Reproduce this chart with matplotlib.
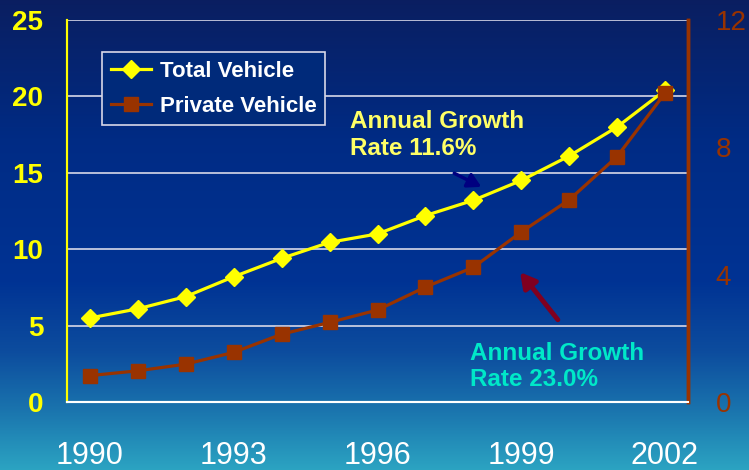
import matplotlib.pyplot as plt
import numpy as np
from matplotlib.colors import LinearSegmentedColormap

plt.rcParams['font.family'] = ['Liberation Sans', 'DejaVu Sans']

years = [1990, 1991, 1992, 1993, 1994, 1995, 1996, 1997, 1998, 1999, 2000, 2001, 2002]
total_vehicle = [5.5, 6.1, 6.9, 8.2, 9.4, 10.45, 11.0, 12.2, 13.2, 14.5, 16.1, 18.0, 20.4]
private_vehicle = [0.83, 0.98, 1.19, 1.56, 2.13, 2.5, 2.89, 3.61, 4.23, 5.34, 6.35, 7.71, 9.7]
year_ticks = [1990, 1993, 1996, 1999, 2002]
left_ticks = [0, 5, 10, 15, 20, 25]
right_ticks = [0, 4, 8, 12]

fig = plt.figure(figsize=(7.49, 4.70), dpi=100)

# background gradient (dark navy at top -> teal at bottom)
bg = fig.add_axes([0, 0, 1, 1], zorder=-10)
cmap = LinearSegmentedColormap.from_list('bg', [
    (0.0, (0.04, 0.12, 0.38)),
    (0.30, (0.00, 0.17, 0.52)),
    (0.60, (0.00, 0.20, 0.58)),
    (0.75, (0.05, 0.30, 0.62)),
    (0.87, (0.10, 0.45, 0.68)),
    (1.0, (0.17, 0.64, 0.76)),
])
bg.imshow(np.linspace(0, 1, 256).reshape(-1, 1), aspect='auto', cmap=cmap,
          extent=[0, 1, 0, 1])
bg.axis('off')

ax = fig.add_axes([67 / 749, 68 / 470, 621 / 749, 382 / 470])
ax.set_facecolor('none')
ax2 = ax.twinx()

ax.set_xlim(1989.52, 2002.48)
ax.set_ylim(0, 25)
ax2.set_ylim(0, 12)

ax.set_yticks(left_ticks)
ax.set_xticks(year_ticks)
ax2.set_yticks(right_ticks)
ax.yaxis.grid(True, color='#d8d8e8', linewidth=1.2)
ax.set_axisbelow(True)

ax.tick_params(axis='y', length=0, pad=17, labelsize=20, labelcolor='#ffff00')
for lb in ax.get_yticklabels():
    lb.set_fontweight('bold')
ax.tick_params(axis='x', length=0, pad=28, labelsize=22, labelcolor='white')
ax2.tick_params(axis='y', length=0, pad=20, labelsize=20, labelcolor='#993300')

for a in (ax, ax2):
    a.spines['top'].set_visible(False)
    a.spines['left'].set_color('#ffff00')
    a.spines['left'].set_linewidth(1.5)
    a.spines['bottom'].set_color('white')
    a.spines['bottom'].set_linewidth(1.5)
    a.spines['right'].set_color('#993300')
    a.spines['right'].set_linewidth(2.5)

l1, = ax.plot(years, total_vehicle, color='#ffff00', lw=2.3, marker='D',
              ms=9, label='Total Vehicle', zorder=5)
l2, = ax2.plot(years, private_vehicle, color='#993300', lw=2.3, marker='s',
               ms=10, label='Private Vehicle', zorder=4)

leg = ax2.legend(handles=[l1, l2], loc='upper left', bbox_to_anchor=(0.056, 0.9155),
                 borderaxespad=0, frameon=True, fancybox=False,
                 prop={'size': 16, 'weight': 'bold'}, labelcolor='white',
                 handlelength=1.8, handletextpad=0.4, borderpad=0.4,
                 labelspacing=0.6)
leg.get_frame().set_facecolor('#002a7a')
leg.get_frame().set_edgecolor('#d8d8e8')
leg.get_frame().set_linewidth(1.2)
leg.get_frame().set_alpha(1)

ax.text(1995.42, 19.1, 'Annual Growth\nRate 11.6%', color='#ffff66',
        fontsize=17.5, fontweight='bold', va='top', ha='left', linespacing=1.2, zorder=6)
ax.text(1997.92, 3.95, 'Annual Growth\nRate 23.0%', color='#00e8c8',
        fontsize=17.5, fontweight='bold', va='top', ha='left', linespacing=1.2, zorder=6)

ax.annotate('', xy=(1998.22, 14.0), xytext=(1997.55, 15.05),
            arrowprops=dict(arrowstyle='-|>,head_length=0.8,head_width=0.45',
                            color='#000080', lw=2.5), zorder=6)
ax.annotate('', xy=(1998.94, 8.64), xytext=(1999.8, 5.24),
            arrowprops=dict(arrowstyle='-|>,head_length=0.9,head_width=0.5',
                            color='#800020', lw=3.5), zorder=6)

plt.savefig('out.png', dpi=100)
